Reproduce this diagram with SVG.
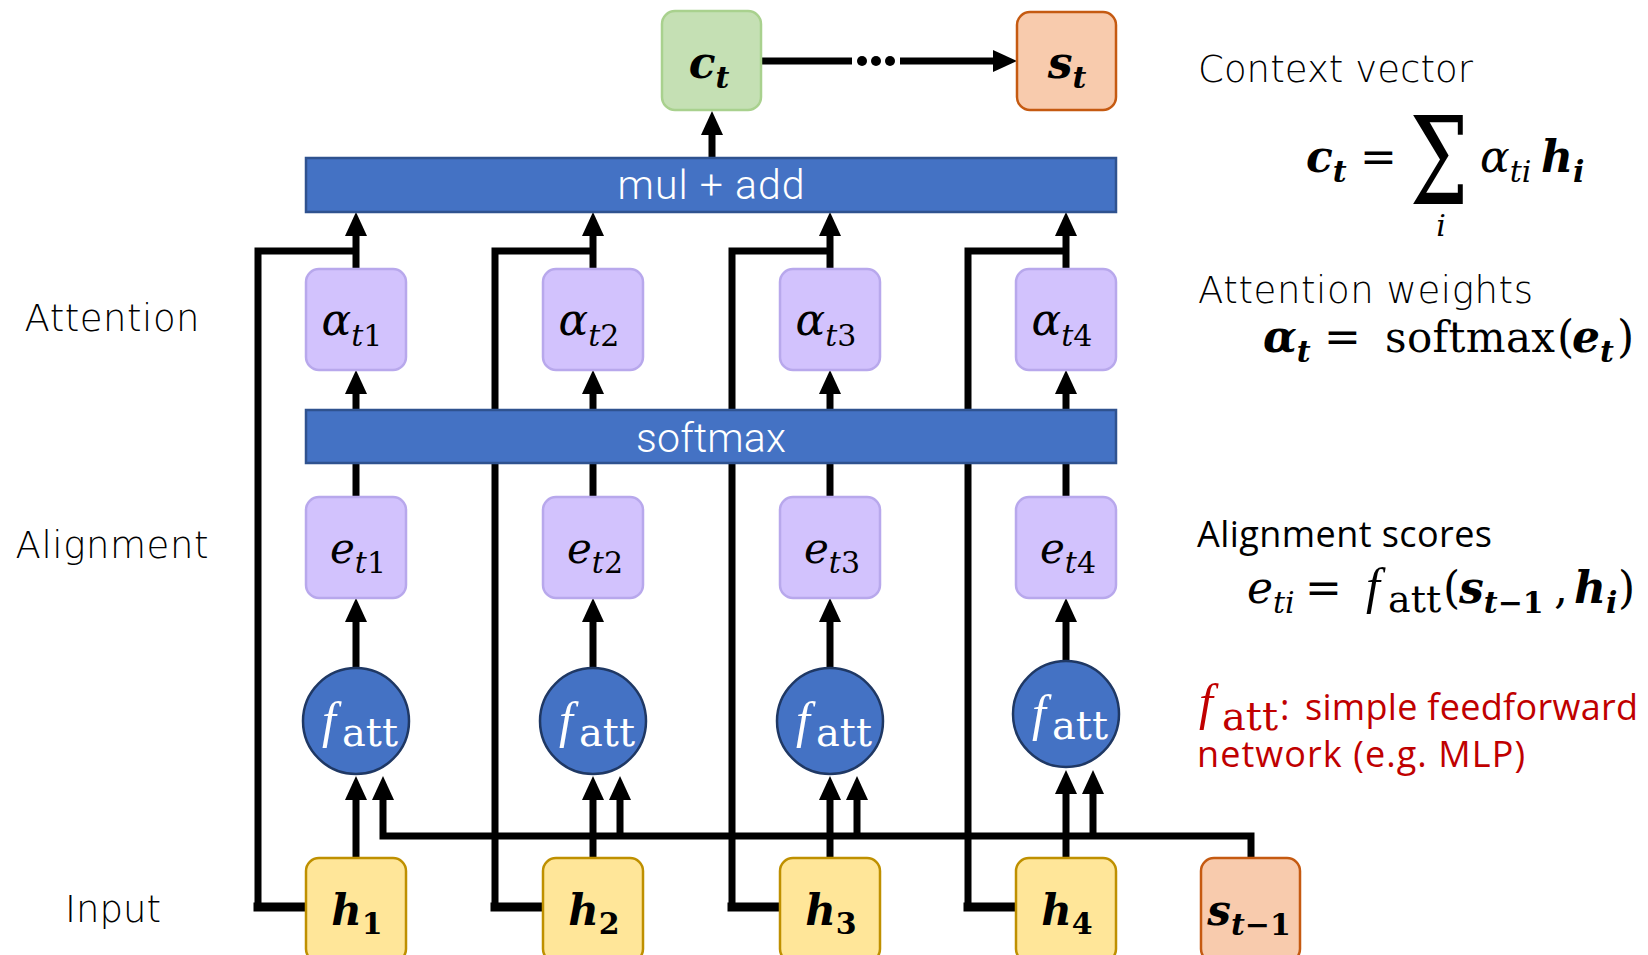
<svg xmlns="http://www.w3.org/2000/svg" width="1648" height="955" viewBox="0 0 1648 955">
<style>
.ln{fill:none;stroke:#000;stroke-width:7;stroke-linejoin:miter}
.arr{marker-end:url(#ah)}
.stub{fill:none;stroke:#000;stroke-width:9;stroke-linecap:square}
.bar{fill:#4472C4;stroke:#2F528F;stroke-width:2.5}
.bartx{font-family:Roboto,"Liberation Sans",sans-serif;font-weight:300;font-size:41px;fill:#fff;text-anchor:middle}
.pur{fill:#D2C2FD;stroke:#B8A8EC;stroke-width:2.5}
.grn{fill:#C5E0B4;stroke:#A9D18E;stroke-width:2.5}
.org{fill:#F8CBAD;stroke:#C55A11;stroke-width:2.5}
.yel{fill:#FFE699;stroke:#BF9000;stroke-width:2.5}
.circ{fill:#4472C4;stroke:#1F3864;stroke-width:2.5}
.m{font-family:"DejaVu Serif","Liberation Serif",serif;fill:#000}
.mi{font-family:"DejaVu Serif","Liberation Serif",serif;font-style:italic;fill:#000}
.mbi{font-family:"DejaVu Serif","Liberation Serif",serif;font-style:italic;font-weight:bold;fill:#000}
.fi{font-family:"Liberation Serif","DejaVu Serif",serif;font-style:italic;font-size:50px}
.w{fill:#fff}
.red{fill:#C00000}
.lab{font-family:"DejaVu Sans","Open Sans",sans-serif;font-weight:200;font-size:37px;fill:#000}
.cal{font-family:"Open Sans","Liberation Sans",sans-serif;font-size:36px}
</style>
<defs>
<marker id="ah" viewBox="0 0 24 22" refX="12" refY="11" markerWidth="24" markerHeight="22" markerUnits="userSpaceOnUse" orient="auto">
<path d="M0,0 L24,11 L0,22 z" fill="#000"/>
</marker>
</defs>

<g id="connectors">
<path class="ln" d="M760,61 H852"/>
<circle cx="862" cy="61" r="5"/>
<circle cx="876" cy="61" r="5"/>
<circle cx="890" cy="61" r="5"/>
<path class="ln arr" d="M900,61 H1005"/>
<path class="ln arr" d="M712,158 V123"/>
<!-- column 1 -->
<path class="ln arr" d="M356,410 V382"/>
<path class="ln arr" d="M356,269 V224"/>
<path class="ln" d="M356,497 V463"/>
<path class="ln arr" d="M356,668 V610"/>
<path class="ln arr" d="M356,858 V788"/>
<path class="ln" d="M258,907 V251 H356"/>
<path class="stub" d="M306,907 H258"/>
<!-- column 2 -->
<path class="ln arr" d="M593,410 V382"/>
<path class="ln arr" d="M593,269 V224"/>
<path class="ln" d="M593,497 V463"/>
<path class="ln arr" d="M593,668 V610"/>
<path class="ln arr" d="M593,858 V788"/>
<path class="ln" d="M495,907 V251 H593"/>
<path class="stub" d="M543,907 H495"/>
<!-- column 3 -->
<path class="ln arr" d="M830,410 V382"/>
<path class="ln arr" d="M830,269 V224"/>
<path class="ln" d="M830,497 V463"/>
<path class="ln arr" d="M830,668 V610"/>
<path class="ln arr" d="M830,858 V788"/>
<path class="ln" d="M732,907 V251 H830"/>
<path class="stub" d="M780,907 H732"/>
<!-- column 4 -->
<path class="ln arr" d="M1066,410 V382"/>
<path class="ln arr" d="M1066,269 V224"/>
<path class="ln" d="M1066,497 V463"/>
<path class="ln arr" d="M1066,661 V610"/>
<path class="ln arr" d="M1066,858 V782"/>
<path class="ln" d="M968,907 V251 H1066"/>
<path class="stub" d="M1016,907 H968"/>
<!-- s_{t-1} feed -->
<path class="ln arr" d="M1251,858 V836 H383 V788"/>
<path class="ln arr" d="M620,836 V788"/>
<path class="ln arr" d="M857,836 V788"/>
<path class="ln arr" d="M1093,836 V782"/>
</g>

<g id="bar-muladd">
<rect class="bar" x="306" y="158" width="810" height="54"/>
<text class="bartx" x="711" y="199" textLength="187">mul + add</text>
</g>
<g id="bar-softmax">
<rect class="bar" x="306" y="410" width="810" height="53"/>
<text class="bartx" x="711" y="452" textLength="150">softmax</text>
</g>

<g id="node-ct">
<rect class="grn" x="662" y="11" width="99" height="99" rx="13"/>
<text class="mbi" x="709" y="78" font-size="44" text-anchor="middle">c<tspan dy="10" font-size="30">t</tspan></text>
</g>
<g id="node-st">
<rect class="org" x="1017" y="12" width="99" height="98" rx="13"/>
<text class="mbi" x="1067" y="78" font-size="44" text-anchor="middle">s<tspan dy="10" font-size="30">t</tspan></text>
</g>

<g id="node-a1">
<rect class="pur" x="306" y="269" width="100" height="101" rx="13"/>
<text class="mi" x="352" y="335" font-size="44" text-anchor="middle">α<tspan dy="11" font-size="30">t</tspan><tspan font-size="30" font-style="normal">1</tspan></text>
</g>
<g id="node-a2">
<rect class="pur" x="543" y="269" width="100" height="101" rx="13"/>
<text class="mi" x="589" y="335" font-size="44" text-anchor="middle">α<tspan dy="11" font-size="30">t</tspan><tspan font-size="30" font-style="normal">2</tspan></text>
</g>
<g id="node-a3">
<rect class="pur" x="780" y="269" width="100" height="101" rx="13"/>
<text class="mi" x="826" y="335" font-size="44" text-anchor="middle">α<tspan dy="11" font-size="30">t</tspan><tspan font-size="30" font-style="normal">3</tspan></text>
</g>
<g id="node-a4">
<rect class="pur" x="1016" y="269" width="100" height="101" rx="13"/>
<text class="mi" x="1062" y="335" font-size="44" text-anchor="middle">α<tspan dy="11" font-size="30">t</tspan><tspan font-size="30" font-style="normal">4</tspan></text>
</g>

<g id="node-e1">
<rect class="pur" x="306" y="497" width="100" height="101" rx="13"/>
<text class="mi" x="358" y="563" font-size="42" text-anchor="middle">e<tspan dy="10" font-size="30">t</tspan><tspan font-size="30" font-style="normal">1</tspan></text>
</g>
<g id="node-e2">
<rect class="pur" x="543" y="497" width="100" height="101" rx="13"/>
<text class="mi" x="595" y="563" font-size="42" text-anchor="middle">e<tspan dy="10" font-size="30">t</tspan><tspan font-size="30" font-style="normal">2</tspan></text>
</g>
<g id="node-e3">
<rect class="pur" x="780" y="497" width="100" height="101" rx="13"/>
<text class="mi" x="832" y="563" font-size="42" text-anchor="middle">e<tspan dy="10" font-size="30">t</tspan><tspan font-size="30" font-style="normal">3</tspan></text>
</g>
<g id="node-e4">
<rect class="pur" x="1016" y="497" width="100" height="101" rx="13"/>
<text class="mi" x="1068" y="563" font-size="42" text-anchor="middle">e<tspan dy="10" font-size="30">t</tspan><tspan font-size="30" font-style="normal">4</tspan></text>
</g>

<g id="node-f1">
<circle class="circ" cx="356" cy="721" r="53"/>
<text class="fi w" x="322" y="737">f</text>
<text class="m w" x="342" y="746" font-size="40">att</text>
</g>
<g id="node-f2">
<circle class="circ" cx="593" cy="721" r="53"/>
<text class="fi w" x="559" y="737">f</text>
<text class="m w" x="579" y="746" font-size="40">att</text>
</g>
<g id="node-f3">
<circle class="circ" cx="830" cy="721" r="53"/>
<text class="fi w" x="796" y="737">f</text>
<text class="m w" x="816" y="746" font-size="40">att</text>
</g>
<g id="node-f4">
<circle class="circ" cx="1066" cy="714" r="53"/>
<text class="fi w" x="1032" y="730">f</text>
<text class="m w" x="1052" y="739" font-size="40">att</text>
</g>

<g id="node-h1">
<rect class="yel" x="306" y="858" width="100" height="104" rx="13"/>
<text class="mbi" x="357" y="925" font-size="42" text-anchor="middle">h<tspan dy="9" font-size="30" font-style="normal">1</tspan></text>
</g>
<g id="node-h2">
<rect class="yel" x="543" y="858" width="100" height="104" rx="13"/>
<text class="mbi" x="594" y="925" font-size="42" text-anchor="middle">h<tspan dy="9" font-size="30" font-style="normal">2</tspan></text>
</g>
<g id="node-h3">
<rect class="yel" x="780" y="858" width="100" height="104" rx="13"/>
<text class="mbi" x="831" y="925" font-size="42" text-anchor="middle">h<tspan dy="9" font-size="30" font-style="normal">3</tspan></text>
</g>
<g id="node-h4">
<rect class="yel" x="1016" y="858" width="100" height="104" rx="13"/>
<text class="mbi" x="1067" y="925" font-size="42" text-anchor="middle">h<tspan dy="9" font-size="30" font-style="normal">4</tspan></text>
</g>
<g id="node-s-prev">
<rect class="org" x="1201" y="858" width="99" height="104" rx="13"/>
<text class="mbi" x="1249" y="925" font-size="42" text-anchor="middle">s<tspan dy="10" font-size="30">t</tspan><tspan font-size="30" font-style="normal">−1</tspan></text>
</g>

<g id="left-labels">
<text class="lab" x="112" y="331" text-anchor="middle" textLength="175">Attention</text>
<text class="lab" x="112" y="558" text-anchor="middle" textLength="193">Alignment</text>
<text class="lab" x="113" y="922" text-anchor="middle" textLength="96">Input</text>
</g>

<g id="context-vector">
<text class="lab" x="1198" y="82" textLength="275">Context vector</text>
<text class="mbi" x="1306" y="172" font-size="44">c<tspan dy="10" font-size="30">t</tspan></text>
<text class="m" x="1360" y="172" font-size="44">=</text>
<text class="m" transform="translate(1439,204) scale(0.68,1)" font-size="122" text-anchor="middle">Σ</text>
<text class="mi" x="1441" y="236" font-size="30" text-anchor="middle">i</text>
<text class="mi" x="1480" y="172" font-size="44">α<tspan dy="10" font-size="30">ti</tspan></text>
<text class="mbi" x="1541" y="172" font-size="44">h<tspan dy="10" font-size="30">i</tspan></text>
</g>

<g id="attention-weights">
<text class="lab" x="1198" y="303" textLength="335">Attention weights</text>
<text class="mbi" x="1263" y="352" font-size="44">α<tspan dy="10" font-size="30">t</tspan></text>
<text class="m" x="1324" y="352" font-size="44">=</text>
<text class="m" x="1385" y="352" font-size="42" textLength="170">softmax</text>
<text class="m" x="1557" y="352" font-size="44">(</text>
<text class="mbi" x="1572" y="352" font-size="44">e<tspan dy="10" font-size="30">t</tspan></text>
<text class="m" x="1617" y="352" font-size="44">)</text>
</g>

<g id="alignment-scores">
<text class="cal" x="1197" y="547" textLength="295" fill="#000">Alignment scores</text>
<text class="mi" x="1247" y="603" font-size="44">e<tspan dy="10" font-size="30">ti</tspan></text>
<text class="m" x="1305" y="603" font-size="44">=</text>
<text class="fi" x="1366" y="603">f</text>
<text class="m" x="1388" y="612" font-size="38">att</text>
<text class="m" x="1443" y="603" font-size="44">(</text>
<text class="mbi" x="1459" y="603" font-size="44">s<tspan dy="10" font-size="30">t</tspan><tspan font-size="30" font-style="normal">−1</tspan></text>
<text class="m" x="1554" y="603" font-size="44">,</text>
<text class="mbi" x="1574" y="603" font-size="44">h<tspan dy="10" font-size="30">i</tspan></text>
<text class="m" x="1618" y="603" font-size="44">)</text>
</g>

<g id="fatt-note">
<text class="fi red" x="1199" y="719">f</text>
<text class="m red" x="1222" y="730" font-size="40">att</text>
<text class="cal red" x="1280" y="720">:</text>
<text class="cal red" x="1305" y="720" textLength="333">simple feedforward</text>
<text class="cal red" x="1197" y="767" textLength="328">network (e.g. MLP)</text>
</g>
</svg>
